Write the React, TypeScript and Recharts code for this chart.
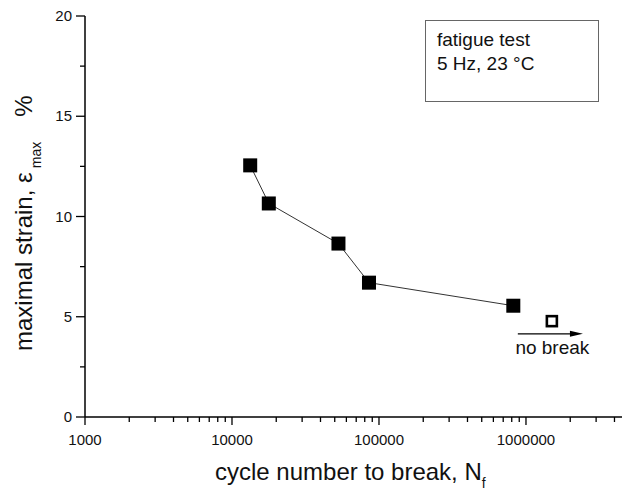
import { ComposedChart, Scatter, XAxis, YAxis, ReferenceLine } from "recharts";

// fatigue data: cycles to break vs maximal strain (%)
const brokenCycles = [13300, 17800, 53000, 85500, 820000];
const brokenStrain = [12.55, 10.65, 8.65, 6.7, 5.55];
const runoutCycles = [1500000];
const runoutStrain = [4.78];

const xMajorTicks = [1000, 10000, 100000, 1000000];
const xMinorTicks = [
  2000, 3000, 4000, 5000, 6000, 7000, 8000, 9000,
  20000, 30000, 40000, 50000, 60000, 70000, 80000, 90000,
  200000, 300000, 400000, 500000, 600000, 700000, 800000, 900000,
  2000000, 3000000, 4000000,
];
const yMajorTicks = [0, 5, 10, 15, 20];
const yMinorTicks = [2.5, 7.5, 12.5, 17.5];

const FONT = "'Liberation Sans', Arial, sans-serif";

const broken = brokenCycles.map((n, i) => ({ n, s: brokenStrain[i] }));
const runout = runoutCycles.map((n, i) => ({ n, s: runoutStrain[i] }));

const XTick = (props: any) => {
  const { x, y, payload } = props;
  const major = xMajorTicks.includes(payload.value);
  return (
    <g>
      <line x1={x} y1={y} x2={x} y2={y + (major ? 8 : 5)} stroke="#000" strokeWidth={1.3} />
      {major && (
        <text x={x} y={y + 28} textAnchor="middle" fontSize={15} fontFamily={FONT} fill="#111">
          {payload.value}
        </text>
      )}
    </g>
  );
};

const YTick = (props: any) => {
  const { x, y, payload } = props;
  const major = yMajorTicks.includes(payload.value);
  return (
    <g>
      <line x1={x} y1={y} x2={x - (major ? 9 : 5)} y2={y} stroke="#000" strokeWidth={1.3} />
      {major && (
        <text x={x - 13} y={y + 5} textAnchor="end" fontSize={15} fontFamily={FONT} fill="#111">
          {payload.value}
        </text>
      )}
    </g>
  );
};

const FilledSquare = (props: any) => (
  <rect x={props.cx - 7} y={props.cy - 7} width={14} height={14} fill="#000" />
);

const OpenSquare = (props: any) => (
  <rect x={props.cx - 5} y={props.cy - 5} width={10} height={10} fill="#fff" stroke="#000" strokeWidth={2.6} />
);

const Arrow = (props: any) => {
  const { x1, y1, x2 } = props;
  return (
    <g>
      <line x1={x1} y1={y1} x2={x2 - 10} y2={y1} stroke="#000" strokeWidth={1.2} />
      <polygon points={`${x2},${y1} ${x2 - 13},${y1 - 3} ${x2 - 13},${y1 + 3}`} fill="#000" />
      <text x={(x1 + x2) / 2 + 2} y={y1 + 20} textAnchor="middle" fontSize={19} fontFamily={FONT} fill="#111">
        no break
      </text>
    </g>
  );
};

export default function App() {
  return (
    <div style={{ position: "absolute", left: 0, top: 0, width: 622, height: 490, background: "#fff" }}>
      <ComposedChart width={622} height={490} margin={{ top: 16, right: 0, bottom: 0, left: 0 }}>
        <XAxis
          dataKey="n"
          type="number"
          scale="log"
          domain={[1000, 4500000]}
          allowDataOverflow
          ticks={[...xMajorTicks, ...xMinorTicks]}
          interval={0}
          height={73}
          tickSize={0}
          tickMargin={0}
          tickLine={false}
          tick={<XTick />}
          axisLine={{ stroke: "#000", strokeWidth: 1.5 }}
        />
        <YAxis
          dataKey="s"
          type="number"
          domain={[0, 20]}
          ticks={[...yMajorTicks, ...yMinorTicks]}
          interval={0}
          width={85}
          tickSize={0}
          tickMargin={0}
          tickLine={false}
          tick={<YTick />}
          axisLine={{ stroke: "#000", strokeWidth: 1.5 }}
        />
        <Scatter
          data={broken}
          line={{ stroke: "#333", strokeWidth: 1 }}
          shape={<FilledSquare />}
          isAnimationActive={false}
        />
        <Scatter data={runout} shape={<OpenSquare />} isAnimationActive={false} />
        <ReferenceLine
          segment={[
            { x: 880000, y: 4.15 },
            { x: 2440000, y: 4.15 },
          ]}
          shape={<Arrow />}
        />
      </ComposedChart>
      <div
        style={{
          position: "absolute",
          left: 425,
          top: 20,
          width: 174,
          height: 82,
          border: "1px solid #666",
          fontFamily: FONT,
          fontSize: 19,
          lineHeight: "24px",
          color: "#111",
          padding: "7px 0 0 11px",
          boxSizing: "border-box",
        }}
      >
        fatigue test
        <br />5 Hz, 23 °C
      </div>
      <svg width={622} height={490} style={{ position: "absolute", left: 0, top: 0, pointerEvents: "none" }}>
        <text x={215} y={480} fontSize={24} fontFamily={FONT} fill="#111">
          cycle number to break, N
          <tspan fontSize={14} dy={8}>f</tspan>
        </text>
        <text transform="translate(32,351) rotate(-90)" fontSize={24} fontFamily={FONT} fill="#111">
          maximal strain, ε
          <tspan fontSize={14} dy={9} dx={4}>max</tspan>
          <tspan dy={-9} dx={25}>%</tspan>
        </text>
      </svg>
    </div>
  );
}
